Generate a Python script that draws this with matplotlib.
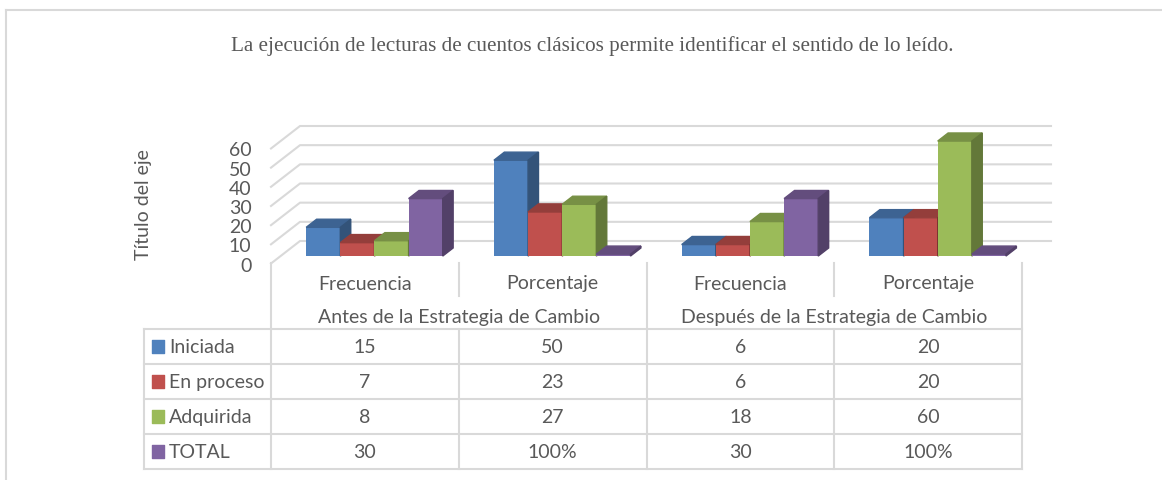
import matplotlib
matplotlib.use('Agg')
import matplotlib.pyplot as plt
from matplotlib.patches import Polygon
from matplotlib.lines import Line2D

plt.rcParams['font.family'] = ['Lato', 'DejaVu Sans']

# data
categories = ['Frecuencia', 'Porcentaje', 'Frecuencia', 'Porcentaje']
groups = ['Antes de la Estrategia de Cambio', 'Después de la Estrategia de Cambio']
series = ['Iniciada', 'En proceso', 'Adquirida', 'TOTAL']
iniciada = [15, 50, 6, 20]
en_proceso = [7, 23, 6, 20]
adquirida = [8, 27, 18, 60]
total = [30, 1, 30, 1]          # 100% is plotted as 1
table_rows = [
    ['15', '50', '6', '20'],
    ['7', '23', '6', '20'],
    ['8', '27', '18', '60'],
    ['30', '100%', '30', '100%'],
]
yticks = [0, 10, 20, 30, 40, 50, 60]

colors = ['#4F81BD', '#C0504D', '#9BBB59', '#8064A2']
grid = '#d9d9d9'
txt = '#595959'

def shade(c, f):
    r, g, b = matplotlib.colors.to_rgb(c)
    return (r * f, g * f, b * f)

W, H = 1162, 481
fig = plt.figure(figsize=(W / 100, H / 100), dpi=100)

# chart frame (left + top edge)
fig.add_artist(Line2D([6 / W, 6 / W], [0, 1 - 11 / H], transform=fig.transFigure, color=grid, lw=1.5))
fig.add_artist(Line2D([6 / W, 1], [1 - 11 / H, 1 - 11 / H], transform=fig.transFigure, color=grid, lw=1.5))

fig.text(592 / W, 1 - 46 / H, 'La ejecución de lecturas de cuentos clásicos permite identificar el sentido de lo leído.',
         family='Liberation Serif', fontsize=15.2, color=txt, ha='center', va='center')

# plot area: front plane 0..4 categories, 0..60 values
ax = fig.add_axes([271 / W, (H - 264.5) / H, 751 / W, 115 / H])
ax.set_xlim(0, 4)
ax.set_ylim(0, 60)
for s in ax.spines.values():
    s.set_visible(False)
ax.set_xticks([])
ax.set_yticks(yticks)
ax.tick_params(axis='y', length=0, pad=14, labelsize=14, labelcolor=txt)

# 3d depth in data units
DX = 29 / 187.75
DY = 22.5 / (115 / 60)

for v in yticks:
    ax.plot([0, DX, 4 + DX], [v, v + DY, v + DY], color=grid, lw=1.5, clip_on=False, zorder=1)

w = 1 / 5.5
f0, f1 = 0.33, 0.69
ddx, ddy = (f1 - f0) * DX, (f1 - f0) * DY
y0 = f0 * DY
for i, vals in enumerate([iniciada, en_proceso, adquirida, total]):
    c = colors[i]
    xs = [j + 0.5 - 2 * w + i * w + f0 * DX for j in range(len(vals))]
    ax.bar(xs, vals, width=w, bottom=y0, align='edge', color=c, zorder=2 + i, clip_on=False)
    for x0, v in zip(xs, vals):
        top = Polygon([(x0, y0 + v), (x0 + w, y0 + v), (x0 + w + ddx, y0 + v + ddy), (x0 + ddx, y0 + v + ddy)],
                      closed=True, color=shade(c, 0.77), zorder=2 + i, clip_on=False)
        side = Polygon([(x0 + w, y0), (x0 + w + ddx, y0 + ddy), (x0 + w + ddx, y0 + v + ddy), (x0 + w, y0 + v)],
                       closed=True, color=shade(c, 0.64), zorder=2 + i, clip_on=False)
        ax.add_patch(top)
        ax.add_patch(side)

fig.text(143 / W, 1 - 205 / H, 'Título del eje', rotation=90, fontsize=14, color=txt, ha='center', va='center')

# data table
tab = fig.add_axes([144 / W, 11 / H, 878 / W, 206 / H])
L = -127 / 187.75
tab.set_xlim(L, 4)
tab.set_ylim(206, 0)
tab.axis('off')
kw = dict(color=grid, lw=1.5, clip_on=False)
for yy in [66, 101, 136, 171, 206]:
    tab.plot([L, 4], [yy, yy], **kw)
tab.plot([L, L], [66, 206], **kw)
for xx in [0, 2, 4]:
    tab.plot([xx, xx], [0, 206], **kw)
for xx in [1, 3]:
    tab.plot([xx, xx], [0, 33], **kw)
    tab.plot([xx, xx], [66, 206], **kw)

for j, cat in enumerate(categories):
    tab.text(j + 0.5, 20, cat, ha='center', va='center', fontsize=14, color=txt)
for g, name in enumerate(groups):
    tab.text(2 * g + 1, 54, name, ha='center', va='center', fontsize=14, color=txt)

row_y = [83.5, 118.5, 153.5, 188.5]
tab.scatter([-0.602] * 4, row_y, marker='s', s=75, c=colors, clip_on=False)
for r, name in enumerate(series):
    tab.text(-0.543, row_y[r], name, ha='left', va='center', fontsize=14, color=txt)
    for j, val in enumerate(table_rows[r]):
        tab.text(j + 0.5, row_y[r], val, ha='center', va='center', fontsize=14, color=txt)

fig.savefig('out.png', dpi=100)
